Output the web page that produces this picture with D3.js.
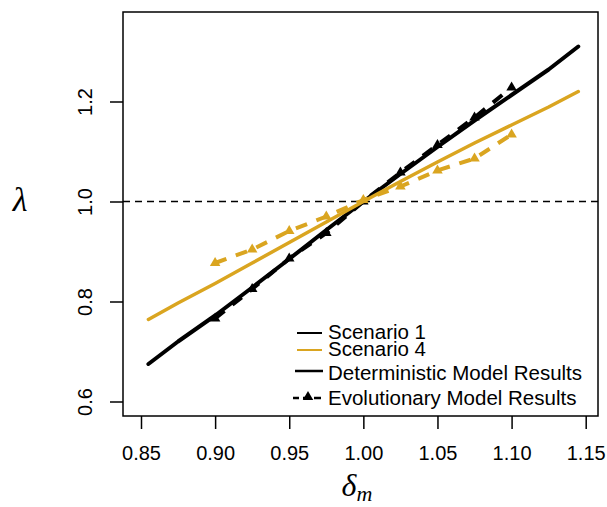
<!DOCTYPE html>
<html>
<head>
<meta charset="utf-8">
<script src="https://cdn.jsdelivr.net/npm/d3@7"></script>
<style>
  body { margin: 0; background: #fff; }
  svg { display: block; }
  text { font-family: "Liberation Sans", Arial, sans-serif; fill: #000; }
</style>
</head>
<body>
<svg id="chart" width="607" height="507"></svg>
<script>
// ---- data ----
const detX = [0.855, 0.875, 0.90, 0.925, 0.95, 0.975, 1.00, 1.025, 1.05, 1.075, 1.10, 1.125, 1.145];
const detScenario1 = [0.675, 0.720, 0.772, 0.828, 0.885, 0.943, 1.000, 1.055, 1.109, 1.162, 1.213, 1.264, 1.310];
const detScenario4 = [0.764, 0.797, 0.836, 0.877, 0.918, 0.959, 1.000, 1.040, 1.079, 1.117, 1.153, 1.189, 1.220];

const evoX = [0.90, 0.925, 0.95, 0.975, 1.00, 1.025, 1.05, 1.075, 1.10];
const evoScenario1 = [0.766, 0.825, 0.886, 0.937, 1.000, 1.058, 1.113, 1.168, 1.228];
const evoScenario4 = [0.877, 0.904, 0.941, 0.970, 1.003, 1.030, 1.062, 1.086, 1.134];

const xTicks = [0.85, 0.90, 0.95, 1.00, 1.05, 1.10, 1.15];
const xTickLabels = ["0.85", "0.90", "0.95", "1.00", "1.05", "1.10", "1.15"];
const yTicks = [0.6, 0.8, 1.0, 1.2];
const yTickLabels = ["0.6", "0.8", "1.0", "1.2"];
const refLine = 1.0;

const legendLabels = ["Scenario 1", "Scenario 4", "Deterministic Model Results", "Evolutionary Model Results"];

// ---- layout ----
const black = "#000000";
const gold = "#DAA520";
const svg = d3.select("#chart");
const L = 123, R = 598, T = 12, B = 416;

const x = d3.scaleLinear().domain([0.85 - 18 / 1482.3, 1.15 + 12.3 / 1482.3]).range([L, R]);
const y = d3.scaleLinear().domain([0.571, 1.379]).range([B, T]);

// reference dashed line
svg.append("line")
  .attr("x1", L).attr("x2", R)
  .attr("y1", y(refLine)).attr("y2", y(refLine))
  .attr("stroke", black).attr("stroke-width", 1.5)
  .attr("stroke-dasharray", "7,5");

const line = d3.line().x(d => x(d[0])).y(d => y(d[1]));
const tri = d3.symbol().type(d3.symbolTriangle).size(48);

function solid(xs, ys, color, w) {
  svg.append("path")
    .attr("d", line(xs.map((v, i) => [v, ys[i]])))
    .attr("fill", "none").attr("stroke", color).attr("stroke-width", w)
    .attr("stroke-linecap", "round").attr("stroke-linejoin", "round");
}
function evo(xs, ys, color) {
  svg.append("path")
    .attr("d", line(xs.map((v, i) => [v, ys[i]])))
    .attr("fill", "none").attr("stroke", color).attr("stroke-width", 4)
    .attr("stroke-dasharray", "12,10")
    .attr("stroke-linecap", "butt");
  svg.append("g").selectAll("path").data(xs.map((v, i) => [v, ys[i]])).join("path")
    .attr("d", tri)
    .attr("transform", d => `translate(${x(d[0])},${y(d[1])})`)
    .attr("fill", color);
}

solid(detX, detScenario1, black, 4);
evo(evoX, evoScenario1, black);
solid(detX, detScenario4, gold, 3.5);
evo(evoX, evoScenario4, gold);

// ---- axes ----
const xAxis = svg.append("g").attr("transform", `translate(0,${B})`)
  .call(d3.axisBottom(x).tickValues(xTicks).tickSize(13).tickPadding(17)
    .tickFormat((d, i) => xTickLabels[i]));
xAxis.select(".domain").remove();
xAxis.selectAll("line").attr("stroke-width", 1.5);
xAxis.selectAll("text").attr("font-size", 20).attr("font-family", "Liberation Sans, Arial, sans-serif");

const yAxis = svg.append("g").attr("transform", `translate(${L},0)`)
  .call(d3.axisLeft(y).tickValues(yTicks).tickSize(13).tickFormat((d, i) => yTickLabels[i]));
yAxis.select(".domain").remove();
yAxis.selectAll("line").attr("stroke-width", 1.5);
yAxis.selectAll("text").remove();
yAxis.selectAll(".tick").append("text")
  .attr("transform", "translate(-31,0) rotate(-90)")
  .attr("text-anchor", "middle")
  .attr("font-size", 20)
  .attr("fill", black)
  .text((d, i) => yTickLabels[i]);

// frame
svg.append("rect").attr("x", L).attr("y", T).attr("width", R - L).attr("height", B - T)
  .attr("fill", "none").attr("stroke", black).attr("stroke-width", 1.5);

// axis titles
const xt = svg.append("text").attr("x", 357).attr("y", 496).attr("text-anchor", "middle")
  .style("font-family", "'Liberation Serif', 'DejaVu Serif', serif").style("font-style", "italic");
xt.append("tspan").attr("font-size", 32).text("δ");
xt.append("tspan").attr("font-size", 22).attr("dy", 5).text("m");

svg.append("text").attr("x", 20).attr("y", 211).attr("text-anchor", "middle")
  .style("font-family", "'Liberation Serif', 'DejaVu Serif', serif").style("font-style", "italic")
  .attr("font-size", 34).text("λ");

// ---- legend ----
const legRows = [
  { ly: 333, ty: 339, color: black, w: 2, dash: null, sym: false, x1: 297, x2: 322 },
  { ly: 350, ty: 356, color: gold, w: 2, dash: null, sym: false, x1: 297, x2: 322 },
  { ly: 371, ty: 380, color: black, w: 2.5, dash: null, sym: false, x1: 295, x2: 323 },
  { ly: 398, ty: 405, color: black, w: 2.5, dash: "7,4", sym: true, x1: 293, x2: 323 }
];
const leg = svg.append("g");
legRows.forEach((r, i) => {
  const ln = leg.append("line").attr("x1", r.x1).attr("x2", r.x2).attr("y1", r.ly).attr("y2", r.ly)
    .attr("stroke", r.color).attr("stroke-width", r.w);
  if (r.dash) ln.attr("stroke-dasharray", r.dash).attr("stroke-dashoffset", 1);
  if (r.sym) leg.append("path").attr("d", tri).attr("transform", `translate(308,${r.ly - 1})`).attr("fill", r.color);
  leg.append("text").attr("x", 328).attr("y", r.ty).attr("font-size", 20.5).text(legendLabels[i]);
});
</script>
</body>
</html>
